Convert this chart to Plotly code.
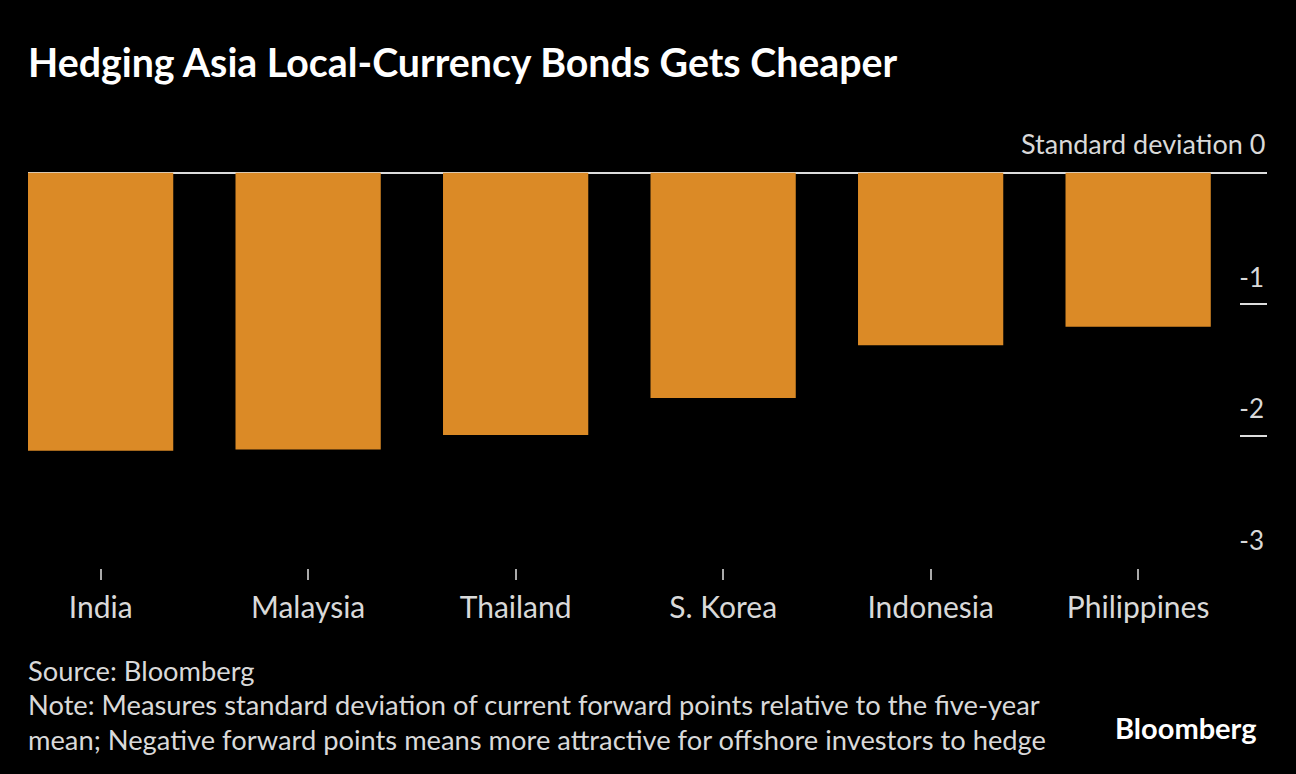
import plotly.graph_objects as go

# Data
countries = ["India", "Malaysia", "Thailand", "S. Korea", "Indonesia", "Philippines"]
std_dev = [-2.11, -2.10, -1.99, -1.71, -1.31, -1.17]
y_tickvals = [0, -1, -2, -3]
y_ticktext = ["", "-1", "-2", "-3"]
y_unit_label = "Standard deviation 0"

font_family = "Lato"
bar_color = "#DB8A26"
text_color = "#D9D9D9"

footer_lines = [
    "Source: Bloomberg",
    "Note: Measures standard deviation of current forward points relative to the five-year",
    "mean; Negative forward points means more attractive for offshore investors to hedge",
]
footer_y = [-0.2299, -0.3058, -0.3817]

fig = go.Figure()
fig.add_trace(go.Bar(x=countries, y=std_dev, width=0.7,
                     marker=dict(color=bar_color, line=dict(width=0))))

annotations = [
    dict(text=t, xref="paper", yref="paper", x=0, y=yy, xanchor="left", yanchor="middle",
         xshift=-2, showarrow=False,
         font=dict(size=27.3, color=text_color, family=font_family))
    for t, yy in zip(footer_lines, footer_y)
]
# label of the zero tick, placed like the other tick labels (above the tick)
annotations.append(
    dict(text=y_unit_label, xref="paper", yref="y", x=1.0, y=0, xanchor="right",
         yanchor="middle", yshift=29, showarrow=False,
         font=dict(size=27, color=text_color, family=font_family)))
annotations.append(
    dict(text="<b>Bloomberg</b>", xref="paper", yref="paper", x=1.0, y=-0.357,
         xanchor="right", yanchor="middle", xshift=-8, showarrow=False,
         font=dict(size=29, color="white", family=font_family)))

fig.update_layout(
    width=1296, height=774,
    paper_bgcolor="black", plot_bgcolor="black",
    margin=dict(l=28, r=29, t=120, b=206),
    showlegend=False,
    font=dict(family=font_family, color=text_color),
    title=dict(text="<b>Hedging Asia Local-Currency Bonds Gets Cheaper</b>",
               x=0, xref="paper", xanchor="left", y=0.918, yanchor="middle",
               font=dict(size=39.3, color="white", family=font_family)),
    xaxis=dict(type="category", range=[-0.35, 5.621], showgrid=False,
               zeroline=False, showline=False,
               ticks="outside", ticklen=11, tickwidth=1.5, tickcolor="#AAAAAA",
               ticklabelstandoff=2,
               tickfont=dict(size=30, color=text_color)),
    yaxis=dict(side="right", range=[-3, 0.4], showgrid=False,
               zeroline=True, zerolinecolor="#DDDDDD", zerolinewidth=1.5,
               tickvals=y_tickvals, ticktext=y_ticktext,
               ticks="inside", ticklen=27, tickwidth=1.5, tickcolor="#DDDDDD",
               ticklabelposition="inside top", ticklabelshift=-8,
               tickfont=dict(size=26, color=text_color)),
    annotations=annotations,
)

fig.write_html("out.html", config={"displayModeBar": False},
               post_script="document.body.style.margin='0';")
